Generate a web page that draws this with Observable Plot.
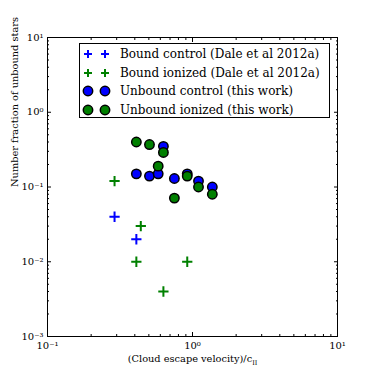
<!DOCTYPE html>
<html>
<head>
<meta charset="utf-8">
<script src="https://cdn.jsdelivr.net/npm/d3@7"></script>
<script src="https://cdn.jsdelivr.net/npm/@observablehq/plot@0.6"></script>
<style>
  html, body { margin: 0; padding: 0; background: #fff; }
  #wrap { position: relative; width: 374px; height: 374px; font-family: "DejaVu Serif", serif; }
  #legend { position: absolute; left: 79px; top: 43px; width: 251px; height: 75px; border: 1px solid #000; background: #fff; box-sizing: border-box; padding-top: 1px; }
  .row { height: 18.5px; display: flex; align-items: center; font-size: 12px; white-space: nowrap; }
  .row svg { flex-shrink: 0; display: block; }
  .icons { display: flex; align-items: center; flex-shrink: 0; }
</style>
</head>
<body>
<div id="wrap"><div id="legend"></div></div>
<script>
// Data
const boundControlX = [0.29, 0.41];
const boundControlY = [0.04, 0.02];
const boundIonizedX = [0.29, 0.44, 0.41, 0.92, 0.63];
const boundIonizedY = [0.12, 0.03, 0.01, 0.01, 0.004];
const unboundControlX = [0.63, 0.41, 0.505, 0.58, 0.75, 0.92, 1.10, 1.37];
const unboundControlY = [0.35, 0.15, 0.14, 0.15, 0.13, 0.15, 0.12, 0.10];
const unboundIonizedX = [0.41, 0.505, 0.63, 0.58, 0.92, 1.10, 1.37, 0.75];
const unboundIonizedY = [0.40, 0.37, 0.29, 0.19, 0.14, 0.10, 0.08, 0.071];
const seriesNames = ["Bound control (Dale et al 2012a)", "Bound ionized (Dale et al 2012a)", "Unbound control (this work)", "Unbound ionized (this work)"];
const xMajor = [0.1, 1, 10];
const yMajor = [0.001, 0.01, 0.1, 1, 10];
const xLabel = "(Cloud escape velocity)/c";
const yLabel = "Number fraction of unbound stars";

const blue = "#0000ff", green = "#008000";
const zip = (xs, ys) => xs.map((x, i) => ({x, y: ys[i]}));
const minorOf = (majors) => majors.slice(0, -1).flatMap(m => d3.range(2, 10).map(k => +(m * k).toPrecision(3)));
const sup = {"-": "\u207B", "0": "\u2070", "1": "\u00B9", "2": "\u00B2", "3": "\u00B3"};
const fmt = v => "10" + String(Math.round(Math.log10(v))).split("").map(c => sup[c]).join("");
const blank = () => "";

const axStyle = {tickSize: -4, label: null, tickFormat: blank};
const minStyle = {tickSize: -2, label: null, tickFormat: blank};

const chart = Plot.plot({
  width: 374, height: 374,
  marginLeft: 47, marginRight: 37, marginTop: 37, marginBottom: 38,
  style: {fontFamily: "DejaVu Serif, serif", fontSize: "10px", background: "white"},
  x: {type: "log", domain: [0.1, 10]},
  y: {type: "log", domain: [0.001, 10]},
  marks: [
    Plot.frame({stroke: "black", strokeWidth: 1}),
    Plot.axisX(xMajor, {anchor: "bottom", ...axStyle}),
    Plot.axisX(xMajor, {anchor: "top", ...axStyle}),
    Plot.axisX(minorOf(xMajor), {anchor: "bottom", ...minStyle}),
    Plot.axisX(minorOf(xMajor), {anchor: "top", ...minStyle}),
    Plot.axisY(yMajor, {anchor: "left", ...axStyle}),
    Plot.axisY(yMajor, {anchor: "right", ...axStyle}),
    Plot.axisY(minorOf(yMajor), {anchor: "left", ...minStyle}),
    Plot.axisY(minorOf(yMajor), {anchor: "right", ...minStyle}),
    Plot.axisX(xMajor, {anchor: "bottom", tickSize: 0, tickPadding: 5, tickFormat: fmt, label: null, fontSize: 10}),
    Plot.axisY(yMajor, {anchor: "left", tickSize: 0, tickPadding: 4, tickFormat: fmt, label: null, fontSize: 10}),
    Plot.text([xLabel], {frameAnchor: "bottom", dy: 25, text: d => d, fontSize: 9.8}),
    Plot.text([yLabel], {frameAnchor: "left", dx: -33, rotate: -90, text: d => d, fontSize: 9.8}),
    Plot.dot(zip(boundControlX, boundControlY), {x: "x", y: "y", symbol: "plus", r: 3.4, stroke: blue, strokeWidth: 2}),
    Plot.dot(zip(boundIonizedX, boundIonizedY), {x: "x", y: "y", symbol: "plus", r: 3.4, stroke: green, strokeWidth: 2}),
    Plot.dot(zip(unboundControlX, unboundControlY), {x: "x", y: "y", r: 4.7, fill: blue, stroke: "black", strokeWidth: 1.5}),
    Plot.dot(zip(unboundIonizedX, unboundIonizedY), {x: "x", y: "y", r: 4.7, fill: green, stroke: "black", strokeWidth: 1.5})
  ]
});
document.getElementById("wrap").prepend(chart);

// subscript II on x label
d3.select(chart).selectAll("text").each(function() {
  if (this.textContent === xLabel) {
    d3.select(this).append("tspan").attr("dy", "3").attr("font-size", "6.5px").text("II");
  }
});

// Legend
const plusIcon = c => `<svg width="10" height="10" viewBox="-5 -5 10 10"><path d="M-4,0H4M0,-4V4" stroke="${c}" stroke-width="2"/></svg>`;
const dotIcon = c => `<svg width="12" height="12" viewBox="-6 -6 12 12"><circle r="4.7" fill="${c}" stroke="black" stroke-width="1.5"/></svg>`;
const icons = [plusIcon(blue), plusIcon(green), dotIcon(blue), dotIcon(green)];
const leg = document.getElementById("legend");
seriesNames.forEach((name, i) => {
  const row = document.createElement("div");
  row.className = "row";
  const isPlus = i < 2;
  row.innerHTML = `<span class="icons" style="margin-left:${isPlus ? 3 : 2}px;gap:${isPlus ? 7 : 5}px">${icons[i]}${icons[i]}</span><span style="margin-left:${isPlus ? 10 : 9}px">${name}</span>`;
  leg.appendChild(row);
});
</script>
</body>
</html>
